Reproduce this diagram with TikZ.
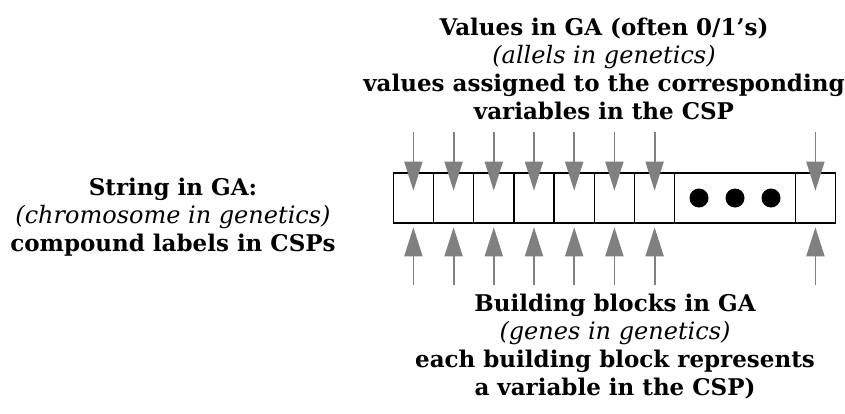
\documentclass[tikz,border=0pt]{standalone}
\usepackage{fontspec}
\setmainfont{DejaVu Serif}
\usetikzlibrary{arrows.meta,calc}
\newcommand{\gloss}[1]{{\fontsize{24}{28}\selectfont\mdseries\itshape #1}}
\begin{document}
\begin{tikzpicture}[x=1pt,y=-1pt,
  cell/.style={draw=black,line width=1.3pt,minimum width=40.2pt,minimum height=50pt,inner sep=0pt,outer sep=0pt},
  garrow/.style={draw=black!50,line width=1.8pt,-{Triangle[length=29pt,width=18pt]},fill=black!50},
  dot/.style={circle,fill=black,minimum size=19pt,inner sep=0pt},
  label/.style={align=center,inner sep=0pt,font=\fontsize{23}{28}\selectfont\bfseries}
]
\useasboundingbox (0,0) rectangle (845,413);

% the string of building blocks
\foreach \i in {1,...,7}
  \node[cell] (c\i) at ({393.3+40.2*(\i-0.5)},198) {};
\node[cell,minimum width=120.6pt] (gap) at ({393.3+40.2*8.5},198) {};
\node[cell] (c8) at ({393.3+40.2*10.5},198) {};
\node[dot] (d1) at ($(gap.center)+(-36,0)$) {};
\node[dot] (d2) at (gap.center) {};
\node[dot] (d3) at ($(gap.center)+(36,0)$) {};

% arrows pointing at the blocks
\foreach \i in {1,...,8} {
  \draw[garrow] (c\i.north) ++(0,-41) -- ++(0,58.7);
  \draw[garrow] (c\i.south) ++(0,62) -- ++(0,-57.7);
}

% labels (anchored at the baseline of their last line)
\node[label,anchor=base] (vals) at (604,119)
  {Values in GA (often 0/1’s)\\ \gloss{(allels in genetics)}\\
   values assigned to the corresponding\\ variables in the CSP};
\node[label,anchor=base] (str) at (173,251)
  {String in GA:\\ \gloss{(chromosome in genetics)}\\ compound labels in CSPs};
\node[label,anchor=base] (bb) at (615,395)
  {Building blocks in GA\\ \gloss{(genes in genetics)}\\
   each building block represents\\ a variable in the CSP)};
\end{tikzpicture}
\end{document}
